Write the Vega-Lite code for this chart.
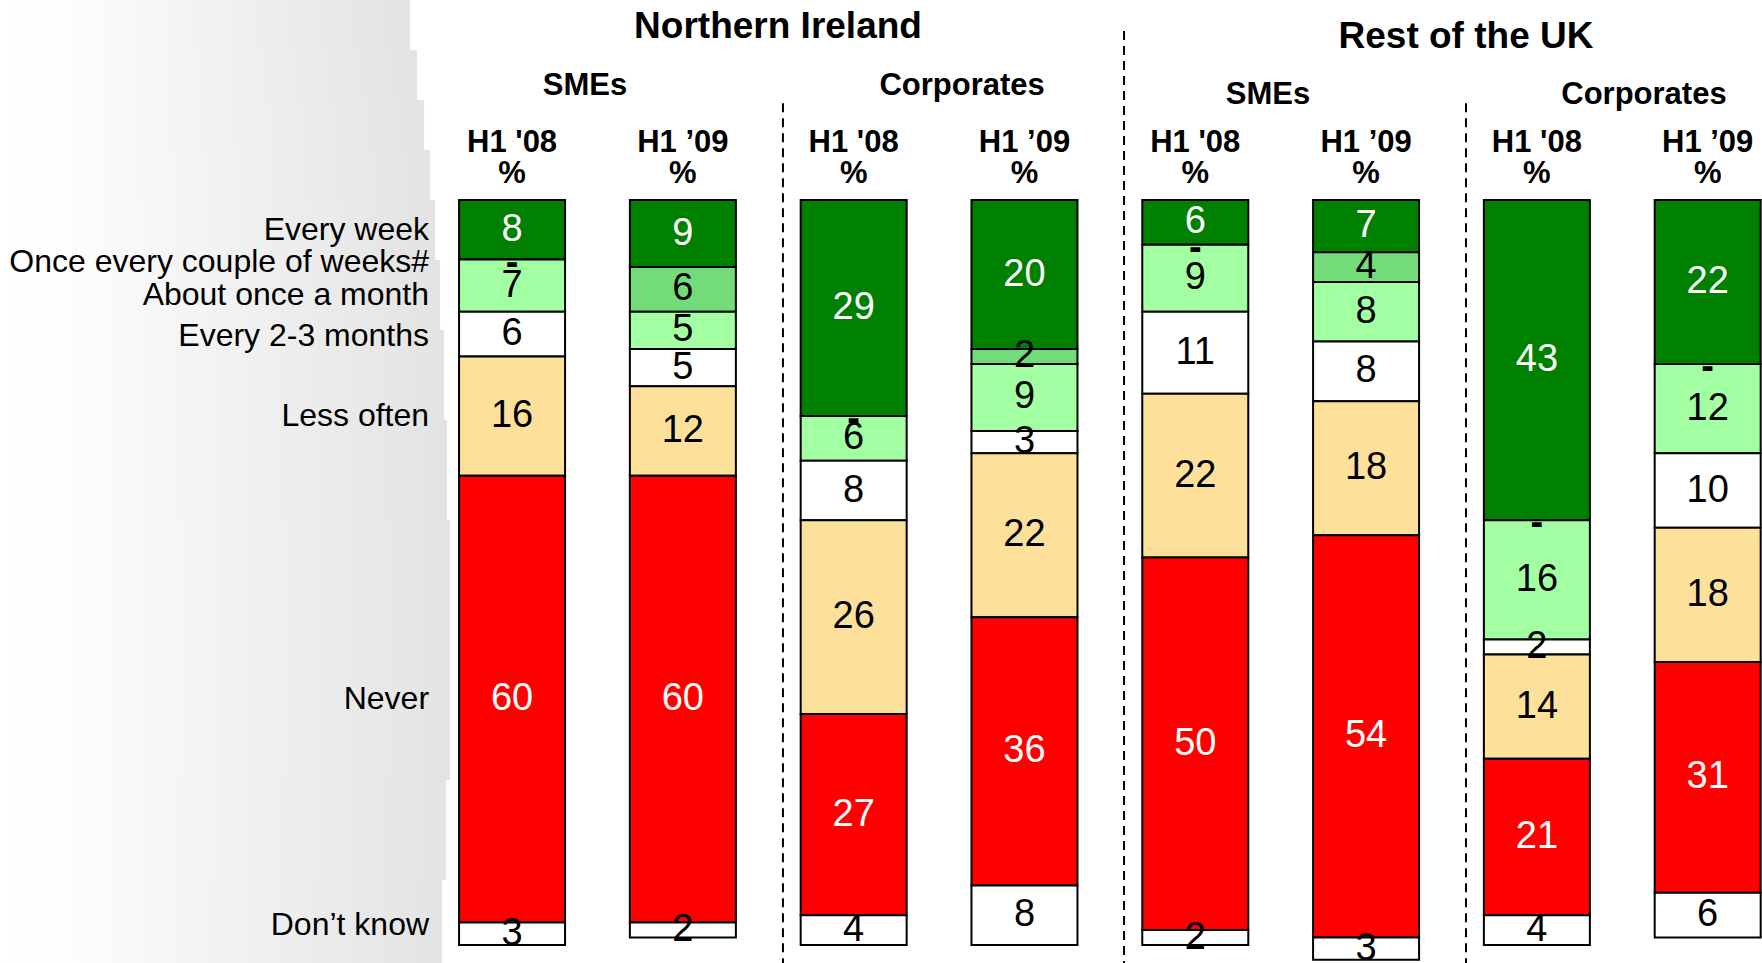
{
  "$schema": "https://vega.github.io/schema/vega-lite/v6.json",
  "width": 1762,
  "height": 963,
  "autosize": {"type": "none"},
  "padding": 0,
  "background": "white",
  "config": {
    "view": {"stroke": null},
    "axis": {"disable": true},
    "text": {"font": "Liberation Sans"},
    "scale": {"continuousPadding": 0}
  },
  "datasets": {
    "freq": [
      {"bar": 1, "region": "Northern Ireland", "sector": "SMEs", "period": "H1 '08", "o": 1, "cat": "Every week", "v": 8},
      {"bar": 1, "region": "Northern Ireland", "sector": "SMEs", "period": "H1 '08", "o": 2, "cat": "Once every couple of weeks#", "v": 0},
      {"bar": 1, "region": "Northern Ireland", "sector": "SMEs", "period": "H1 '08", "o": 3, "cat": "About once a month", "v": 7},
      {"bar": 1, "region": "Northern Ireland", "sector": "SMEs", "period": "H1 '08", "o": 4, "cat": "Every 2-3 months", "v": 6},
      {"bar": 1, "region": "Northern Ireland", "sector": "SMEs", "period": "H1 '08", "o": 5, "cat": "Less often", "v": 16},
      {"bar": 1, "region": "Northern Ireland", "sector": "SMEs", "period": "H1 '08", "o": 6, "cat": "Never", "v": 60},
      {"bar": 1, "region": "Northern Ireland", "sector": "SMEs", "period": "H1 '08", "o": 7, "cat": "Don’t know", "v": 3},

      {"bar": 2, "region": "Northern Ireland", "sector": "SMEs", "period": "H1 ’09", "o": 1, "cat": "Every week", "v": 9},
      {"bar": 2, "region": "Northern Ireland", "sector": "SMEs", "period": "H1 ’09", "o": 2, "cat": "Once every couple of weeks#", "v": 6},
      {"bar": 2, "region": "Northern Ireland", "sector": "SMEs", "period": "H1 ’09", "o": 3, "cat": "About once a month", "v": 5},
      {"bar": 2, "region": "Northern Ireland", "sector": "SMEs", "period": "H1 ’09", "o": 4, "cat": "Every 2-3 months", "v": 5},
      {"bar": 2, "region": "Northern Ireland", "sector": "SMEs", "period": "H1 ’09", "o": 5, "cat": "Less often", "v": 12},
      {"bar": 2, "region": "Northern Ireland", "sector": "SMEs", "period": "H1 ’09", "o": 6, "cat": "Never", "v": 60},
      {"bar": 2, "region": "Northern Ireland", "sector": "SMEs", "period": "H1 ’09", "o": 7, "cat": "Don’t know", "v": 2},

      {"bar": 3, "region": "Northern Ireland", "sector": "Corporates", "period": "H1 '08", "o": 1, "cat": "Every week", "v": 29},
      {"bar": 3, "region": "Northern Ireland", "sector": "Corporates", "period": "H1 '08", "o": 2, "cat": "Once every couple of weeks#", "v": 0},
      {"bar": 3, "region": "Northern Ireland", "sector": "Corporates", "period": "H1 '08", "o": 3, "cat": "About once a month", "v": 6},
      {"bar": 3, "region": "Northern Ireland", "sector": "Corporates", "period": "H1 '08", "o": 4, "cat": "Every 2-3 months", "v": 8},
      {"bar": 3, "region": "Northern Ireland", "sector": "Corporates", "period": "H1 '08", "o": 5, "cat": "Less often", "v": 26},
      {"bar": 3, "region": "Northern Ireland", "sector": "Corporates", "period": "H1 '08", "o": 6, "cat": "Never", "v": 27},
      {"bar": 3, "region": "Northern Ireland", "sector": "Corporates", "period": "H1 '08", "o": 7, "cat": "Don’t know", "v": 4},

      {"bar": 4, "region": "Northern Ireland", "sector": "Corporates", "period": "H1 ’09", "o": 1, "cat": "Every week", "v": 20},
      {"bar": 4, "region": "Northern Ireland", "sector": "Corporates", "period": "H1 ’09", "o": 2, "cat": "Once every couple of weeks#", "v": 2},
      {"bar": 4, "region": "Northern Ireland", "sector": "Corporates", "period": "H1 ’09", "o": 3, "cat": "About once a month", "v": 9},
      {"bar": 4, "region": "Northern Ireland", "sector": "Corporates", "period": "H1 ’09", "o": 4, "cat": "Every 2-3 months", "v": 3},
      {"bar": 4, "region": "Northern Ireland", "sector": "Corporates", "period": "H1 ’09", "o": 5, "cat": "Less often", "v": 22},
      {"bar": 4, "region": "Northern Ireland", "sector": "Corporates", "period": "H1 ’09", "o": 6, "cat": "Never", "v": 36},
      {"bar": 4, "region": "Northern Ireland", "sector": "Corporates", "period": "H1 ’09", "o": 7, "cat": "Don’t know", "v": 8},

      {"bar": 5, "region": "Rest of the UK", "sector": "SMEs", "period": "H1 '08", "o": 1, "cat": "Every week", "v": 6},
      {"bar": 5, "region": "Rest of the UK", "sector": "SMEs", "period": "H1 '08", "o": 2, "cat": "Once every couple of weeks#", "v": 0},
      {"bar": 5, "region": "Rest of the UK", "sector": "SMEs", "period": "H1 '08", "o": 3, "cat": "About once a month", "v": 9},
      {"bar": 5, "region": "Rest of the UK", "sector": "SMEs", "period": "H1 '08", "o": 4, "cat": "Every 2-3 months", "v": 11},
      {"bar": 5, "region": "Rest of the UK", "sector": "SMEs", "period": "H1 '08", "o": 5, "cat": "Less often", "v": 22},
      {"bar": 5, "region": "Rest of the UK", "sector": "SMEs", "period": "H1 '08", "o": 6, "cat": "Never", "v": 50},
      {"bar": 5, "region": "Rest of the UK", "sector": "SMEs", "period": "H1 '08", "o": 7, "cat": "Don’t know", "v": 2},

      {"bar": 6, "region": "Rest of the UK", "sector": "SMEs", "period": "H1 ’09", "o": 1, "cat": "Every week", "v": 7},
      {"bar": 6, "region": "Rest of the UK", "sector": "SMEs", "period": "H1 ’09", "o": 2, "cat": "Once every couple of weeks#", "v": 4},
      {"bar": 6, "region": "Rest of the UK", "sector": "SMEs", "period": "H1 ’09", "o": 3, "cat": "About once a month", "v": 8},
      {"bar": 6, "region": "Rest of the UK", "sector": "SMEs", "period": "H1 ’09", "o": 4, "cat": "Every 2-3 months", "v": 8},
      {"bar": 6, "region": "Rest of the UK", "sector": "SMEs", "period": "H1 ’09", "o": 5, "cat": "Less often", "v": 18},
      {"bar": 6, "region": "Rest of the UK", "sector": "SMEs", "period": "H1 ’09", "o": 6, "cat": "Never", "v": 54},
      {"bar": 6, "region": "Rest of the UK", "sector": "SMEs", "period": "H1 ’09", "o": 7, "cat": "Don’t know", "v": 3},

      {"bar": 7, "region": "Rest of the UK", "sector": "Corporates", "period": "H1 '08", "o": 1, "cat": "Every week", "v": 43},
      {"bar": 7, "region": "Rest of the UK", "sector": "Corporates", "period": "H1 '08", "o": 2, "cat": "Once every couple of weeks#", "v": 0},
      {"bar": 7, "region": "Rest of the UK", "sector": "Corporates", "period": "H1 '08", "o": 3, "cat": "About once a month", "v": 16},
      {"bar": 7, "region": "Rest of the UK", "sector": "Corporates", "period": "H1 '08", "o": 4, "cat": "Every 2-3 months", "v": 2},
      {"bar": 7, "region": "Rest of the UK", "sector": "Corporates", "period": "H1 '08", "o": 5, "cat": "Less often", "v": 14},
      {"bar": 7, "region": "Rest of the UK", "sector": "Corporates", "period": "H1 '08", "o": 6, "cat": "Never", "v": 21},
      {"bar": 7, "region": "Rest of the UK", "sector": "Corporates", "period": "H1 '08", "o": 7, "cat": "Don’t know", "v": 4},

      {"bar": 8, "region": "Rest of the UK", "sector": "Corporates", "period": "H1 ’09", "o": 1, "cat": "Every week", "v": 22},
      {"bar": 8, "region": "Rest of the UK", "sector": "Corporates", "period": "H1 ’09", "o": 2, "cat": "Once every couple of weeks#", "v": 0},
      {"bar": 8, "region": "Rest of the UK", "sector": "Corporates", "period": "H1 ’09", "o": 3, "cat": "About once a month", "v": 12},
      {"bar": 8, "region": "Rest of the UK", "sector": "Corporates", "period": "H1 ’09", "o": 4, "cat": "Every 2-3 months", "v": 10},
      {"bar": 8, "region": "Rest of the UK", "sector": "Corporates", "period": "H1 ’09", "o": 5, "cat": "Less often", "v": 18},
      {"bar": 8, "region": "Rest of the UK", "sector": "Corporates", "period": "H1 ’09", "o": 6, "cat": "Never", "v": 31},
      {"bar": 8, "region": "Rest of the UK", "sector": "Corporates", "period": "H1 ’09", "o": 7, "cat": "Don’t know", "v": 6}
    ]
  },
  "data": {"name": "freq"},
  "layer": [
    {"data": {"values": [{}]}, "mark": {"type": "rect", "fill": {"gradient": "linear", "x1": 0, "y1": 0, "x2": 1, "y2": 0, "stops": [{"offset": 0, "color": "#ffffff"}, {"offset": 0.15, "color": "#fdfdfd"}, {"offset": 1, "color": "#e3e3e3"}]}},
     "encoding": {"x": {"datum": -1.998, "type": "quantitative", "scale": {"type": "linear", "domain": [-1.998, 8.318], "nice": false, "zero": false, "padding": 0}}, "x2": {"datum": 0.4028},
                  "y": {"datum": -26.85, "type": "quantitative", "scale": {"type": "linear", "domain": [-26.85, 102.42], "reverse": true, "nice": false, "zero": false, "padding": 0}}, "y2": {"datum": -20.13}}},
    {"data": {"values": [{}]}, "mark": {"type": "rect", "fill": {"gradient": "linear", "x1": 0, "y1": 0, "x2": 1, "y2": 0, "stops": [{"offset": 0, "color": "#ffffff"}, {"offset": 0.15, "color": "#fdfdfd"}, {"offset": 1, "color": "#e3e3e3"}]}},
     "encoding": {"x": {"datum": -1.998, "type": "quantitative", "scale": {"type": "linear", "domain": [-1.998, 8.318], "nice": false, "zero": false, "padding": 0}}, "x2": {"datum": 0.4438},
                  "y": {"datum": -20.13, "type": "quantitative", "scale": {"type": "linear", "domain": [-26.85, 102.42], "reverse": true, "nice": false, "zero": false, "padding": 0}}, "y2": {"datum": -13.42}}},
    {"data": {"values": [{}]}, "mark": {"type": "rect", "fill": {"gradient": "linear", "x1": 0, "y1": 0, "x2": 1, "y2": 0, "stops": [{"offset": 0, "color": "#ffffff"}, {"offset": 0.15, "color": "#fdfdfd"}, {"offset": 1, "color": "#e3e3e3"}]}},
     "encoding": {"x": {"datum": -1.998, "type": "quantitative", "scale": {"type": "linear", "domain": [-1.998, 8.318], "nice": false, "zero": false, "padding": 0}}, "x2": {"datum": 0.4848},
                  "y": {"datum": -13.42, "type": "quantitative", "scale": {"type": "linear", "domain": [-26.85, 102.42], "reverse": true, "nice": false, "zero": false, "padding": 0}}, "y2": {"datum": -6.71}}},
    {"data": {"values": [{}]}, "mark": {"type": "rect", "fill": {"gradient": "linear", "x1": 0, "y1": 0, "x2": 1, "y2": 0, "stops": [{"offset": 0, "color": "#ffffff"}, {"offset": 0.15, "color": "#fdfdfd"}, {"offset": 1, "color": "#e3e3e3"}]}},
     "encoding": {"x": {"datum": -1.998, "type": "quantitative", "scale": {"type": "linear", "domain": [-1.998, 8.318], "nice": false, "zero": false, "padding": 0}}, "x2": {"datum": 0.5199},
                  "y": {"datum": -6.71, "type": "quantitative", "scale": {"type": "linear", "domain": [-26.85, 102.42], "reverse": true, "nice": false, "zero": false, "padding": 0}}, "y2": {"datum": 0}}},
    {"data": {"values": [{}]}, "mark": {"type": "rect", "fill": {"gradient": "linear", "x1": 0, "y1": 0, "x2": 1, "y2": 0, "stops": [{"offset": 0, "color": "#ffffff"}, {"offset": 0.15, "color": "#fdfdfd"}, {"offset": 1, "color": "#e3e3e3"}]}},
     "encoding": {"x": {"datum": -1.998, "type": "quantitative", "scale": {"type": "linear", "domain": [-1.998, 8.318], "nice": false, "zero": false, "padding": 0}}, "x2": {"datum": 0.5492},
                  "y": {"datum": 0, "type": "quantitative", "scale": {"type": "linear", "domain": [-26.85, 102.42], "reverse": true, "nice": false, "zero": false, "padding": 0}}, "y2": {"datum": 8.05}}},
    {"data": {"values": [{}]}, "mark": {"type": "rect", "fill": {"gradient": "linear", "x1": 0, "y1": 0, "x2": 1, "y2": 0, "stops": [{"offset": 0, "color": "#ffffff"}, {"offset": 0.15, "color": "#fdfdfd"}, {"offset": 1, "color": "#e3e3e3"}]}},
     "encoding": {"x": {"datum": -1.998, "type": "quantitative", "scale": {"type": "linear", "domain": [-1.998, 8.318], "nice": false, "zero": false, "padding": 0}}, "x2": {"datum": 0.5785},
                  "y": {"datum": 8.05, "type": "quantitative", "scale": {"type": "linear", "domain": [-26.85, 102.42], "reverse": true, "nice": false, "zero": false, "padding": 0}}, "y2": {"datum": 17.45}}},
    {"data": {"values": [{}]}, "mark": {"type": "rect", "fill": {"gradient": "linear", "x1": 0, "y1": 0, "x2": 1, "y2": 0, "stops": [{"offset": 0, "color": "#ffffff"}, {"offset": 0.15, "color": "#fdfdfd"}, {"offset": 1, "color": "#e3e3e3"}]}},
     "encoding": {"x": {"datum": -1.998, "type": "quantitative", "scale": {"type": "linear", "domain": [-1.998, 8.318], "nice": false, "zero": false, "padding": 0}}, "x2": {"datum": 0.6019},
                  "y": {"datum": 17.45, "type": "quantitative", "scale": {"type": "linear", "domain": [-26.85, 102.42], "reverse": true, "nice": false, "zero": false, "padding": 0}}, "y2": {"datum": 29.53}}},
    {"data": {"values": [{}]}, "mark": {"type": "rect", "fill": {"gradient": "linear", "x1": 0, "y1": 0, "x2": 1, "y2": 0, "stops": [{"offset": 0, "color": "#ffffff"}, {"offset": 0.15, "color": "#fdfdfd"}, {"offset": 1, "color": "#e3e3e3"}]}},
     "encoding": {"x": {"datum": -1.998, "type": "quantitative", "scale": {"type": "linear", "domain": [-1.998, 8.318], "nice": false, "zero": false, "padding": 0}}, "x2": {"datum": 0.6194},
                  "y": {"datum": 29.53, "type": "quantitative", "scale": {"type": "linear", "domain": [-26.85, 102.42], "reverse": true, "nice": false, "zero": false, "padding": 0}}, "y2": {"datum": 42.95}}},
    {"data": {"values": [{}]}, "mark": {"type": "rect", "fill": {"gradient": "linear", "x1": 0, "y1": 0, "x2": 1, "y2": 0, "stops": [{"offset": 0, "color": "#ffffff"}, {"offset": 0.15, "color": "#fdfdfd"}, {"offset": 1, "color": "#e3e3e3"}]}},
     "encoding": {"x": {"datum": -1.998, "type": "quantitative", "scale": {"type": "linear", "domain": [-1.998, 8.318], "nice": false, "zero": false, "padding": 0}}, "x2": {"datum": 0.6370},
                  "y": {"datum": 42.95, "type": "quantitative", "scale": {"type": "linear", "domain": [-26.85, 102.42], "reverse": true, "nice": false, "zero": false, "padding": 0}}, "y2": {"datum": 77.85}}},
    {"data": {"values": [{}]}, "mark": {"type": "rect", "fill": {"gradient": "linear", "x1": 0, "y1": 0, "x2": 1, "y2": 0, "stops": [{"offset": 0, "color": "#ffffff"}, {"offset": 0.15, "color": "#fdfdfd"}, {"offset": 1, "color": "#e3e3e3"}]}},
     "encoding": {"x": {"datum": -1.998, "type": "quantitative", "scale": {"type": "linear", "domain": [-1.998, 8.318], "nice": false, "zero": false, "padding": 0}}, "x2": {"datum": 0.6136},
                  "y": {"datum": 77.85, "type": "quantitative", "scale": {"type": "linear", "domain": [-26.85, 102.42], "reverse": true, "nice": false, "zero": false, "padding": 0}}, "y2": {"datum": 91.28}}},
    {"data": {"values": [{}]}, "mark": {"type": "rect", "fill": {"gradient": "linear", "x1": 0, "y1": 0, "x2": 1, "y2": 0, "stops": [{"offset": 0, "color": "#ffffff"}, {"offset": 0.15, "color": "#fdfdfd"}, {"offset": 1, "color": "#e3e3e3"}]}},
     "encoding": {"x": {"datum": -1.998, "type": "quantitative", "scale": {"type": "linear", "domain": [-1.998, 8.318], "nice": false, "zero": false, "padding": 0}}, "x2": {"datum": 0.5902},
                  "y": {"datum": 91.28, "type": "quantitative", "scale": {"type": "linear", "domain": [-26.85, 102.42], "reverse": true, "nice": false, "zero": false, "padding": 0}}, "y2": {"datum": 102.42}}},
    {
      "data": {"values": [{}]},
      "mark": {"type": "rule", "stroke": "black", "strokeWidth": 2, "strokeDash": [9, 6]},
      "encoding": {
        "x": {"datum": 2.586, "type": "quantitative", "scale": {"type": "linear", "domain": [-1.998, 8.318], "nice": false, "zero": false, "padding": 0}},
        "y": {"datum": -13.0, "type": "quantitative", "scale": {"type": "linear", "domain": [-26.85, 102.42], "reverse": true, "nice": false, "zero": false, "padding": 0}},
        "y2": {"datum": 102.42}
      }
    },
    {
      "data": {"values": [{}]},
      "mark": {"type": "rule", "stroke": "black", "strokeWidth": 2, "strokeDash": [9, 6]},
      "encoding": {
        "x": {"datum": 4.583, "type": "quantitative", "scale": {"type": "linear", "domain": [-1.998, 8.318], "nice": false, "zero": false, "padding": 0}},
        "y": {"datum": -22.7, "type": "quantitative", "scale": {"type": "linear", "domain": [-26.85, 102.42], "reverse": true, "nice": false, "zero": false, "padding": 0}},
        "y2": {"datum": 102.42}
      }
    },
    {
      "data": {"values": [{}]},
      "mark": {"type": "rule", "stroke": "black", "strokeWidth": 2, "strokeDash": [9, 6]},
      "encoding": {
        "x": {"datum": 6.585, "type": "quantitative", "scale": {"type": "linear", "domain": [-1.998, 8.318], "nice": false, "zero": false, "padding": 0}},
        "y": {"datum": -13.0, "type": "quantitative", "scale": {"type": "linear", "domain": [-26.85, 102.42], "reverse": true, "nice": false, "zero": false, "padding": 0}},
        "y2": {"datum": 102.42}
      }
    },
    {
      "transform": [
        {"stack": "v", "groupby": ["bar"], "sort": [{"field": "o", "order": "ascending"}], "as": ["y0", "y1"]}
      ],
      "mark": {"type": "bar", "width": 106, "stroke": "black", "strokeWidth": 2, "orient": "vertical"},
      "encoding": {
        "x": {"field": "bar", "type": "quantitative", "scale": {"type": "linear", "domain": [-1.998, 8.318], "nice": false, "zero": false, "padding": 0}},
        "y": {"field": "y0", "type": "quantitative", "scale": {"type": "linear", "domain": [-26.85, 102.42], "reverse": true, "nice": false, "zero": false, "padding": 0}},
        "y2": {"field": "y1"},
        "color": {
          "field": "cat", "type": "nominal", "legend": null,
          "scale": {
            "domain": ["Every week", "Once every couple of weeks#", "About once a month", "Every 2-3 months", "Less often", "Never", "Don’t know"],
            "range": ["#008000", "#73DC78", "#A2FFA2", "#FFFFFF", "#FDE19B", "#FF0000", "#FFFFFF"]
          }
        }
      }
    },
    {
      "transform": [
        {"stack": "v", "groupby": ["bar"], "sort": [{"field": "o", "order": "ascending"}], "as": ["y0", "y1"]},
        {"filter": "datum.v > 0"},
        {"fold": ["y0", "y1"], "as": ["k", "yy"]},
        {"aggregate": [{"op": "mean", "field": "yy", "as": "mid"}], "groupby": ["bar", "cat", "v"]}
      ],
      "mark": {"type": "text", "fontSize": 38, "align": "center", "baseline": "middle"},
      "encoding": {
        "x": {"field": "bar", "type": "quantitative", "scale": {"type": "linear", "domain": [-1.998, 8.318], "nice": false, "zero": false, "padding": 0}},
        "y": {"field": "mid", "type": "quantitative", "scale": {"type": "linear", "domain": [-26.85, 102.42], "reverse": true, "nice": false, "zero": false, "padding": 0}},
        "text": {"field": "v", "type": "nominal"},
        "color": {"condition": {"test": "datum.cat === 'Every week' || datum.cat === 'Never'", "value": "white"}, "value": "black"}
      }
    },
    {
      "transform": [
        {"stack": "v", "groupby": ["bar"], "sort": [{"field": "o", "order": "ascending"}], "as": ["y0", "y1"]},
        {"filter": "datum.v === 0"},
        {"fold": ["y0", "y1"], "as": ["k", "yy"]},
        {"aggregate": [{"op": "mean", "field": "yy", "as": "mid"}], "groupby": ["bar", "cat", "v"]}
      ],
      "mark": {"type": "text", "fontSize": 38, "fontWeight": "bold", "align": "center", "baseline": "middle", "dy": 4, "color": "black"},
      "encoding": {
        "x": {"field": "bar", "type": "quantitative", "scale": {"type": "linear", "domain": [-1.998, 8.318], "nice": false, "zero": false, "padding": 0}},
        "y": {"field": "mid", "type": "quantitative", "scale": {"type": "linear", "domain": [-26.85, 102.42], "reverse": true, "nice": false, "zero": false, "padding": 0}},
        "text": {"value": "-"}
      }
    },
    {
      "transform": [
        {"stack": "v", "groupby": ["bar"], "sort": [{"field": "o", "order": "ascending"}], "as": ["y0", "y1"]},
        {"filter": "datum.bar === 1 && (datum.cat === 'Every week' || datum.cat === 'Less often' || datum.cat === 'Never')"},
        {"fold": ["y0", "y1"], "as": ["k", "yy"]},
        {"aggregate": [{"op": "mean", "field": "yy", "as": "mid"}], "groupby": ["cat"]}
      ],
      "mark": {"type": "text", "fontSize": 32, "align": "right", "baseline": "middle", "dy": 0, "color": "black"},
      "encoding": {
        "x": {"datum": 0.514, "type": "quantitative", "scale": {"type": "linear", "domain": [-1.998, 8.318], "nice": false, "zero": false, "padding": 0}},
        "y": {"field": "mid", "type": "quantitative", "scale": {"type": "linear", "domain": [-26.85, 102.42], "reverse": true, "nice": false, "zero": false, "padding": 0}},
        "text": {"field": "cat", "type": "nominal"}
      }
    },
    {
      "transform": [
        {"stack": "v", "groupby": ["bar"], "sort": [{"field": "o", "order": "ascending"}], "as": ["y0", "y1"]},
        {"filter": "datum.bar === 1 && (datum.cat === 'Once every couple of weeks#' || datum.cat === 'Every 2-3 months')"},
        {"fold": ["y0", "y1"], "as": ["k", "yy"]},
        {"aggregate": [{"op": "mean", "field": "yy", "as": "mid"}], "groupby": ["cat"]}
      ],
      "mark": {"type": "text", "fontSize": 32, "align": "right", "baseline": "middle", "dy": 2, "color": "black"},
      "encoding": {
        "x": {"datum": 0.514, "type": "quantitative", "scale": {"type": "linear", "domain": [-1.998, 8.318], "nice": false, "zero": false, "padding": 0}},
        "y": {"field": "mid", "type": "quantitative", "scale": {"type": "linear", "domain": [-26.85, 102.42], "reverse": true, "nice": false, "zero": false, "padding": 0}},
        "text": {"field": "cat", "type": "nominal"}
      }
    },
    {
      "transform": [
        {"stack": "v", "groupby": ["bar"], "sort": [{"field": "o", "order": "ascending"}], "as": ["y0", "y1"]},
        {"filter": "datum.bar === 1 && datum.cat === 'About once a month'"},
        {"fold": ["y0", "y1"], "as": ["k", "yy"]},
        {"aggregate": [{"op": "mean", "field": "yy", "as": "mid"}], "groupby": ["cat"]}
      ],
      "mark": {"type": "text", "fontSize": 32, "align": "right", "baseline": "middle", "dy": 9, "color": "black"},
      "encoding": {
        "x": {"datum": 0.514, "type": "quantitative", "scale": {"type": "linear", "domain": [-1.998, 8.318], "nice": false, "zero": false, "padding": 0}},
        "y": {"field": "mid", "type": "quantitative", "scale": {"type": "linear", "domain": [-26.85, 102.42], "reverse": true, "nice": false, "zero": false, "padding": 0}},
        "text": {"field": "cat", "type": "nominal"}
      }
    },
    {
      "transform": [
        {"stack": "v", "groupby": ["bar"], "sort": [{"field": "o", "order": "ascending"}], "as": ["y0", "y1"]},
        {"filter": "datum.bar === 1 && datum.cat === 'Don’t know'"},
        {"fold": ["y0", "y1"], "as": ["k", "yy"]},
        {"aggregate": [{"op": "mean", "field": "yy", "as": "mid"}], "groupby": ["cat"]}
      ],
      "mark": {"type": "text", "fontSize": 32, "align": "right", "baseline": "middle", "dy": -9, "color": "black"},
      "encoding": {
        "x": {"datum": 0.514, "type": "quantitative", "scale": {"type": "linear", "domain": [-1.998, 8.318], "nice": false, "zero": false, "padding": 0}},
        "y": {"field": "mid", "type": "quantitative", "scale": {"type": "linear", "domain": [-26.85, 102.42], "reverse": true, "nice": false, "zero": false, "padding": 0}},
        "text": {"field": "cat", "type": "nominal"}
      }
    },
    {
      "transform": [{"filter": "datum.cat === 'Every week'"}],
      "mark": {"type": "text", "fontSize": 31, "fontWeight": "bold", "align": "center", "baseline": "middle", "color": "black"},
      "encoding": {
        "x": {"field": "bar", "type": "quantitative", "scale": {"type": "linear", "domain": [-1.998, 8.318], "nice": false, "zero": false, "padding": 0}},
        "y": {"datum": -7.6, "type": "quantitative", "scale": {"type": "linear", "domain": [-26.85, 102.42], "reverse": true, "nice": false, "zero": false, "padding": 0}},
        "text": {"field": "period", "type": "nominal"}
      }
    },
    {
      "transform": [{"filter": "datum.cat === 'Every week'"}],
      "mark": {"type": "text", "fontSize": 31, "fontWeight": "bold", "align": "center", "baseline": "middle", "color": "black"},
      "encoding": {
        "x": {"field": "bar", "type": "quantitative", "scale": {"type": "linear", "domain": [-1.998, 8.318], "nice": false, "zero": false, "padding": 0}},
        "y": {"datum": -3.5, "type": "quantitative", "scale": {"type": "linear", "domain": [-26.85, 102.42], "reverse": true, "nice": false, "zero": false, "padding": 0}},
        "text": {"value": "%"}
      }
    },
    {
      "data": {"values": [{"t": "Northern Ireland"}]},
      "mark": {"type": "text", "fontSize": 37, "fontWeight": "bold", "align": "center", "baseline": "middle", "color": "black"},
      "encoding": {
        "x": {"datum": 2.557, "type": "quantitative", "scale": {"type": "linear", "domain": [-1.998, 8.318], "nice": false, "zero": false, "padding": 0}},
        "y": {"datum": -23.2, "type": "quantitative", "scale": {"type": "linear", "domain": [-26.85, 102.42], "reverse": true, "nice": false, "zero": false, "padding": 0}},
        "text": {"field": "t", "type": "nominal"}
      }
    },
    {
      "data": {"values": [{"t": "Rest of the UK"}]},
      "mark": {"type": "text", "fontSize": 37, "fontWeight": "bold", "align": "center", "baseline": "middle", "color": "black"},
      "encoding": {
        "x": {"datum": 6.585, "type": "quantitative", "scale": {"type": "linear", "domain": [-1.998, 8.318], "nice": false, "zero": false, "padding": 0}},
        "y": {"datum": -21.9, "type": "quantitative", "scale": {"type": "linear", "domain": [-26.85, 102.42], "reverse": true, "nice": false, "zero": false, "padding": 0}},
        "text": {"field": "t", "type": "nominal"}
      }
    },
    {
      "data": {"values": [{"t": "SMEs"}]},
      "mark": {"type": "text", "fontSize": 31, "fontWeight": "bold", "align": "center", "baseline": "middle", "color": "black"},
      "encoding": {
        "x": {"datum": 1.427, "type": "quantitative", "scale": {"type": "linear", "domain": [-1.998, 8.318], "nice": false, "zero": false, "padding": 0}},
        "y": {"datum": -15.3, "type": "quantitative", "scale": {"type": "linear", "domain": [-26.85, 102.42], "reverse": true, "nice": false, "zero": false, "padding": 0}},
        "text": {"field": "t", "type": "nominal"}
      }
    },
    {
      "data": {"values": [{"t": "Corporates"}]},
      "mark": {"type": "text", "fontSize": 31, "fontWeight": "bold", "align": "center", "baseline": "middle", "color": "black"},
      "encoding": {
        "x": {"datum": 3.635, "type": "quantitative", "scale": {"type": "linear", "domain": [-1.998, 8.318], "nice": false, "zero": false, "padding": 0}},
        "y": {"datum": -15.3, "type": "quantitative", "scale": {"type": "linear", "domain": [-26.85, 102.42], "reverse": true, "nice": false, "zero": false, "padding": 0}},
        "text": {"field": "t", "type": "nominal"}
      }
    },
    {
      "data": {"values": [{"t": "SMEs"}]},
      "mark": {"type": "text", "fontSize": 31, "fontWeight": "bold", "align": "center", "baseline": "middle", "color": "black"},
      "encoding": {
        "x": {"datum": 5.426, "type": "quantitative", "scale": {"type": "linear", "domain": [-1.998, 8.318], "nice": false, "zero": false, "padding": 0}},
        "y": {"datum": -14.1, "type": "quantitative", "scale": {"type": "linear", "domain": [-26.85, 102.42], "reverse": true, "nice": false, "zero": false, "padding": 0}},
        "text": {"field": "t", "type": "nominal"}
      }
    },
    {
      "data": {"values": [{"t": "Corporates"}]},
      "mark": {"type": "text", "fontSize": 31, "fontWeight": "bold", "align": "center", "baseline": "middle", "color": "black"},
      "encoding": {
        "x": {"datum": 7.627, "type": "quantitative", "scale": {"type": "linear", "domain": [-1.998, 8.318], "nice": false, "zero": false, "padding": 0}},
        "y": {"datum": -14.1, "type": "quantitative", "scale": {"type": "linear", "domain": [-26.85, 102.42], "reverse": true, "nice": false, "zero": false, "padding": 0}},
        "text": {"field": "t", "type": "nominal"}
      }
    }
  ]
}
